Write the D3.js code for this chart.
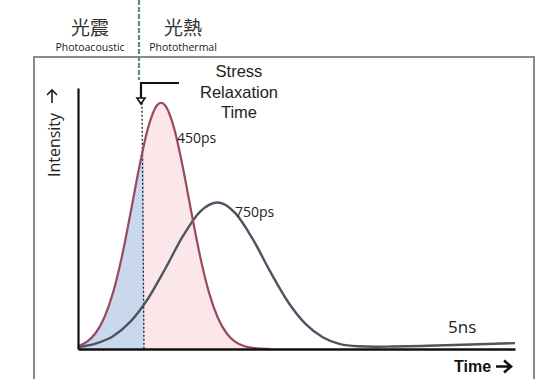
<!DOCTYPE html>
<html><head><meta charset="utf-8">
<script src="https://cdn.jsdelivr.net/npm/d3@7"></script>
<style>body{margin:0;background:#fff}svg{display:block}</style>
</head><body>
<svg id="c" width="560" height="379"></svg>
<script>
// time axis in ns, intensity normalised
const redTime = [0,0.1,0.2,0.3,0.4,0.5,0.6,0.7,0.8,0.9,0.95,1.0,1.1,1.2,1.3,1.4,1.5,1.6,1.7,1.8,1.9,2.0,2.1,2.2];
const redValue = [0.012,0.029,0.064,0.127,0.228,0.372,0.55,0.737,0.896,0.988,1.0,0.988,0.896,0.737,0.55,0.372,0.228,0.127,0.064,0.029,0.012,0.0045,0.0015,0];
const grayTime = [0,0.2,0.4,0.6,0.8,1.0,1.2,1.4,1.6,1.8,2.0,2.2,2.4,2.6,2.8,3.0,3.2,3.4,3.6,4.0,4.5,5.0];
const grayValue = [0.008,0.022,0.052,0.111,0.204,0.327,0.458,0.559,0.595,0.552,0.446,0.314,0.193,0.103,0.048,0.02,0.011,0.009,0.01,0.013,0.018,0.024];
const stressTime = 0.755;
const peakLabels = ["450ps","750ps"];
const endLabel = "5ns";
const regionLabels = [{zh:"光震", en:"Photoacoustic"},{zh:"光熱", en:"Photothermal"}];
const stressLines = ["Stress","Relaxation","Time"];

const svg = d3.select("#c");
const x = d3.scaleLinear().domain([0,5]).range([78,515]);
const y = d3.scaleLinear().domain([0,1.06]).range([349,88]);

// outer frame
svg.append("rect").attr("x",34).attr("y",57).attr("width",500).attr("height",360)
  .attr("fill","#fff").attr("stroke","#8a8a8a").attr("stroke-width",2);

const red = redTime.map((t,i)=>[t,redValue[i]]);
const gray = grayTime.map((t,i)=>[t,grayValue[i]]);
const curve = d3.curveMonotoneX;
const area = d3.area().x(d=>x(d[0])).y0(y(0)).y1(d=>y(d[1])).curve(curve);
const line = d3.line().x(d=>x(d[0])).y(d=>y(d[1])).curve(curve);

const defs = svg.append("defs");
defs.append("clipPath").attr("id","left").append("rect")
  .attr("x",0).attr("y",0).attr("width",x(stressTime)).attr("height",379);
defs.append("clipPath").attr("id","right").append("rect")
  .attr("x",x(stressTime)).attr("y",0).attr("width",560).attr("height",379);

svg.append("path").datum(red).attr("d",area).attr("fill","#fbe7e9").attr("clip-path","url(#right)");
svg.append("path").datum(red).attr("d",area).attr("fill","#c9d8ec").attr("clip-path","url(#left)");

// dotted stress line
svg.append("line").attr("x1",x(stressTime)-2).attr("x2",x(stressTime))
  .attr("y1",y(1.0)).attr("y2",y(0)).attr("stroke","#222").attr("stroke-width",1.3)
  .attr("stroke-dasharray","2,2");

svg.append("path").datum(gray).attr("d",line).attr("fill","none")
  .attr("stroke","#4d5462").attr("stroke-width",2.4);
svg.append("path").datum(red).attr("d",line).attr("fill","none")
  .attr("stroke","#9a4a5e").attr("stroke-width",2.2);

// axes
svg.append("g").attr("transform",`translate(${x(0)},0)`)
  .call(d3.axisLeft(y).tickValues([]).tickSizeOuter(0))
  .select(".domain").attr("stroke","#111").attr("stroke-width",2.2);
svg.append("g").attr("transform",`translate(0,${y(0)})`)
  .call(d3.axisBottom(x).tickValues([]).tickSizeOuter(0))
  .select(".domain").attr("stroke","#111").attr("stroke-width",2.5);

// teal dashed divider at top
const sx = x(stressTime);
svg.append("line").attr("x1",sx-5).attr("x2",sx-5).attr("y1",0).attr("y2",80)
  .attr("stroke","#5e8c96").attr("stroke-width",2.2).attr("stroke-dasharray","5,2");

// bracket arrow
svg.append("path").attr("d",`M${sx+35},83 H${sx-3} V99`).attr("fill","none")
  .attr("stroke","#111").attr("stroke-width",2.2);
svg.append("path").attr("d",`M${sx-7},98 L${sx+1},98 L${sx-3},104 Z`)
  .attr("fill","#fff").attr("stroke","#111").attr("stroke-width",1.6);

// region labels
const rx = [90,183];
regionLabels.forEach((r,i)=>{
  svg.append("text").attr("x",rx[i]).attr("y",35).attr("text-anchor","middle")
    .attr("font-family","'Noto Sans CJK TC'").attr("font-size",19).attr("fill","#333").text(r.zh);
  svg.append("text").attr("x",rx[i]).attr("y",51).attr("text-anchor","middle")
    .attr("font-family","'Open Sans'").attr("font-size",10.5).attr("fill","#222").text(r.en);
});

// stress relaxation label
stressLines.forEach((s,i)=>{
  svg.append("text").attr("x",239).attr("y",77+i*20.5).attr("text-anchor","middle")
    .attr("font-family","'Liberation Sans',Arial").attr("font-size",16.5).attr("fill","#222").text(s);
});

// peak labels
svg.append("text").attr("x",177).attr("y",143).attr("font-family","'Open Sans'")
  .attr("font-size",14).attr("fill","#222").text(peakLabels[0]);
svg.append("text").attr("x",235).attr("y",217).attr("font-family","'Open Sans'")
  .attr("font-size",14).attr("fill","#222").text(peakLabels[1]);
svg.append("text").attr("x",448).attr("y",333).attr("font-family","'Open Sans'")
  .attr("font-size",17).attr("fill","#222").text(endLabel);

// axis titles
svg.append("text").attr("x",454).attr("y",372)
  .attr("font-family","'Liberation Sans',Arial").attr("font-weight","bold")
  .attr("font-size",16).attr("fill","#111").text("Time");
svg.append("path").attr("d","M496,366.5 H510 M504,360.5 L511,366.5 L504,372.5")
  .attr("fill","none").attr("stroke","#111").attr("stroke-width",2.6);
svg.append("text").attr("transform","translate(60,145) rotate(-90)").attr("text-anchor","middle")
  .attr("font-family","'Open Sans'").attr("font-size",16).attr("fill","#222").text("Intensity");
svg.append("path").attr("d","M52,103 V90 M47,95 L52,90 L57,95")
  .attr("fill","none").attr("stroke","#222").attr("stroke-width",1.6);
</script>
</body></html>
